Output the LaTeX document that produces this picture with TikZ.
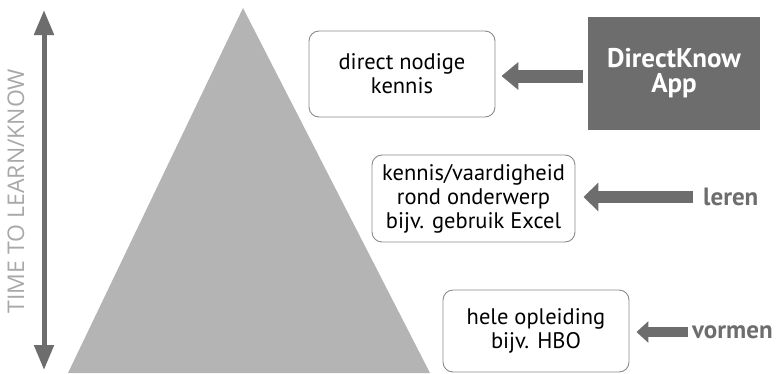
\documentclass[tikz,border=0pt]{standalone}
\usepackage{fontspec}
\setmainfont{PT Sans}
\newfontfamily\lightfont{Open Sans}
\usetikzlibrary{arrows.meta}
\definecolor{darkg}{HTML}{6D6D6D}
\definecolor{trig}{HTML}{B4B4B4}
\definecolor{boxline}{HTML}{8A8A8A}
\definecolor{lightg}{HTML}{A8A8A8}
\tikzset{
  infobox/.style={draw=boxline, line width=0.9pt, rounded corners=10pt, fill=white,
    align=center, inner sep=0pt, font=\fontsize{22.5}{24}\selectfont},
  appbox/.style={fill=darkg, text=white, align=center, inner sep=0pt,
    font=\fontsize{27}{25}\selectfont\bfseries},
  sidelabel/.style={text=darkg, font=\fontsize{25}{25}\selectfont\bfseries, inner sep=0pt, anchor=west},
}
\begin{document}
\begin{tikzpicture}[x=1pt,y=-1pt]
\useasboundingbox (0,0) rectangle (779,373);
% pyramid
\fill[trig] (243,8) -- (430,373) -- (68,373) -- cycle;
% vertical axis
\coordinate (axtop) at (44,10);
\coordinate (axbot) at (44,370);
\draw[darkg, line width=5pt, {Triangle[length=25pt,width=19pt]}-{Triangle[length=25pt,width=19pt]}] (axtop) -- (axbot);
\node[rotate=90, text=lightg, font=\lightfont\fontsize{23}{24}\selectfont, inner sep=0pt] (axlabel) at (16,191) {TIME TO LEARN/KNOW};
% boxes
\node[infobox, minimum width=186pt, minimum height=86pt] (b1) at (402,74) {direct nodige\\kennis};
\node[infobox, minimum width=203pt, minimum height=87pt] (b2) at (473.5,198.5) {kennis/vaardigheid\\rond onderwerp\\bijv. gebruik Excel};
\node[infobox, minimum width=186pt, minimum height=82pt] (b3) at (536,331) {hele opleiding\\bijv. HBO};
\node[appbox, minimum width=172pt, minimum height=113pt] (app) at (674,73.5) {DirectKnow\\App};
% labels
\node[sidelabel] (leren) at (703,197) {leren};
\node[sidelabel] (vormen) at (692,332) {vormen};
% arrows
\draw[darkg, line width=13pt, -{Triangle[length=17pt,width=27pt]}, shorten <=5pt, shorten >=6pt] (app.west |- 0,76) -- (b1.east |- 0,76);
\draw[darkg, line width=12pt, -{Triangle[length=15pt,width=28pt]}, shorten <=10pt, shorten >=8pt] (leren.west) -- (b2.east |- leren.west);
\draw[darkg, line width=10pt, -{Triangle[length=12pt,width=21pt]}, shorten <=4pt, shorten >=7pt] (vormen.west) -- (b3.east |- vormen.west);
\end{tikzpicture}
\end{document}
